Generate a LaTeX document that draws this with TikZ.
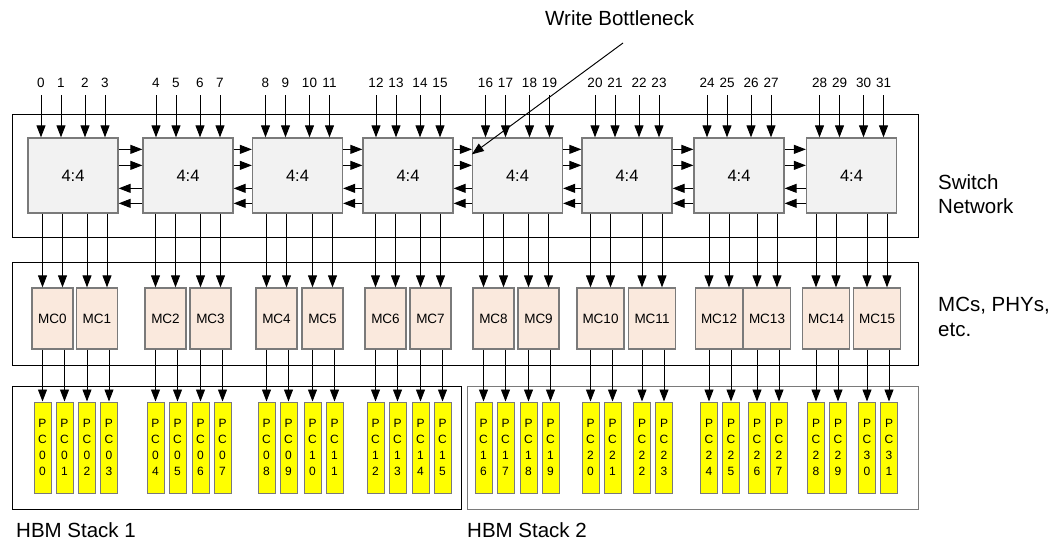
\documentclass[tikz,border=0pt]{standalone}
\usepackage{fontspec}
\setmainfont{Liberation Sans}
\usetikzlibrary{arrows.meta}
\definecolor{swgray}{HTML}{F2F2F2}
\definecolor{mcpeach}{HTML}{FAE9DD}
\definecolor{pcyellow}{HTML}{FFFF00}
\definecolor{edgegray}{HTML}{7A7A7A}

\begin{document}
\begin{tikzpicture}[
    x=1pt, y=-1pt,
    switchbox/.style={draw=edgegray, fill=swgray, line width=1.3pt, minimum width=90pt, minimum height=75pt, inner sep=0pt, font=\fontsize{16.5}{18}\selectfont},
    mcbox/.style={draw=edgegray, fill=mcpeach, line width=1.3pt, minimum height=61pt, inner sep=0pt, font=\fontsize{13.5}{15}\selectfont},
    pcbox/.style={draw=edgegray, fill=pcyellow, line width=1pt, minimum width=17pt, minimum height=91pt, inner sep=0pt, align=center, font=\fontsize{12}{16}\selectfont},
    frame/.style={draw, line width=1pt},
    portnum/.style={font=\fontsize{13.5}{15}\selectfont, inner sep=1pt, anchor=base},
    biglabel/.style={font=\fontsize{20.5}{24.5}\selectfont, align=left, inner sep=0pt},
    arrow/.style={-{Triangle[length=12pt, width=9pt]}, line width=0.95pt}
]
    \useasboundingbox (0,0) rectangle (1052,542);

    % frames
    \draw[frame] (12,114) rectangle (918,237);
    \draw[frame] (12,262) rectangle (918,365);
    \draw[frame] (12,386) rectangle (461,509);
    \draw[frame, draw=edgegray] (467,386) rectangle (918,509);

    % switch network
    \foreach \c [count=\i] in {73,188,297.5,408,517.5,627,739,851.5} {
        \node[switchbox] (sw\i) at (\c,175.5) {4:4};
        \foreach \dx [count=\k] in {-32,-12,12,32} {
            \pgfmathtruncatemacro\n{4*(\i-1)+\k-1}
            \node[portnum] (in\n) at (\c+\dx,87) {\n};
            \draw[arrow] ([yshift=-8pt]in\n.base) -- (in\n.base |- sw\i.north);
        }
    }
    \foreach \i [evaluate=\i as \j using int(\i+1)] in {1,...,7} {
        \draw[arrow] ([yshift=-12pt]sw\i.north east) -- ([yshift=-12pt]sw\j.north west);
        \draw[arrow] ([yshift=-28pt]sw\i.north east) -- ([yshift=-28pt]sw\j.north west);
        \draw[arrow] ([yshift=-51pt]sw\j.north west) -- ([yshift=-51pt]sw\i.north east);
        \draw[arrow] ([yshift=-66pt]sw\j.north west) -- ([yshift=-66pt]sw\i.north east);
    }

    % memory controllers and pseudo channels
    \foreach \c/\w [count=\i from 0] in {52.5/41, 97/41, 165.5/41, 210.5/41, 276.5/41, 322.5/41, 385.5/41, 430.5/41,
                                         493.5/41, 538.5/41, 600.5/47, 652/47, 719/47, 767/47, 826/47, 877/47} {
        \pgfmathtruncatemacro\s{int(\i/2)+1}
        \node[mcbox, minimum width=\w pt] (mc\i) at (\c,318.5) {MC\i};
        \coordinate (mcl\i) at ([xshift=-10pt]mc\i.north);
        \coordinate (mcr\i) at ([xshift=10pt]mc\i.north);
        \draw[arrow] (mcl\i |- sw\s.south) -- (mcl\i);
        \draw[arrow] (mcr\i |- sw\s.south) -- (mcr\i);
        \foreach \dx [count=\k from 0] in {-11,11} {
            \pgfmathtruncatemacro\n{2*\i+\k}
            \pgfmathtruncatemacro\tens{int(\n/10)}
            \pgfmathtruncatemacro\units{mod(\n,10)}
            \node[pcbox] (pc\n) at (\c+1+\dx,447.5) {P\\C\\\tens\\\units};
            \draw[arrow] (mc\i.south -| pc\n.north) -- (pc\n.north);
        }
    }

    % labels
    \node[biglabel, anchor=west] (netlbl) at (938,194) {Switch\\Network};
    \node[biglabel, anchor=west] (mclbl) at (938,317) {MCs, PHYs,\\etc.};
    \node[biglabel, anchor=base west] (hbm1) at (16,537) {HBM Stack 1};
    \node[biglabel, anchor=base west] (hbm2) at (467,537) {HBM Stack 2};
    \node[biglabel, anchor=base west] (wblbl) at (545,25) {Write Bottleneck};
    \coordinate (wbtail) at (623,43);
    \draw[arrow] (wbtail) -- ([yshift=-17pt]sw5.north west);
\end{tikzpicture}
\end{document}
